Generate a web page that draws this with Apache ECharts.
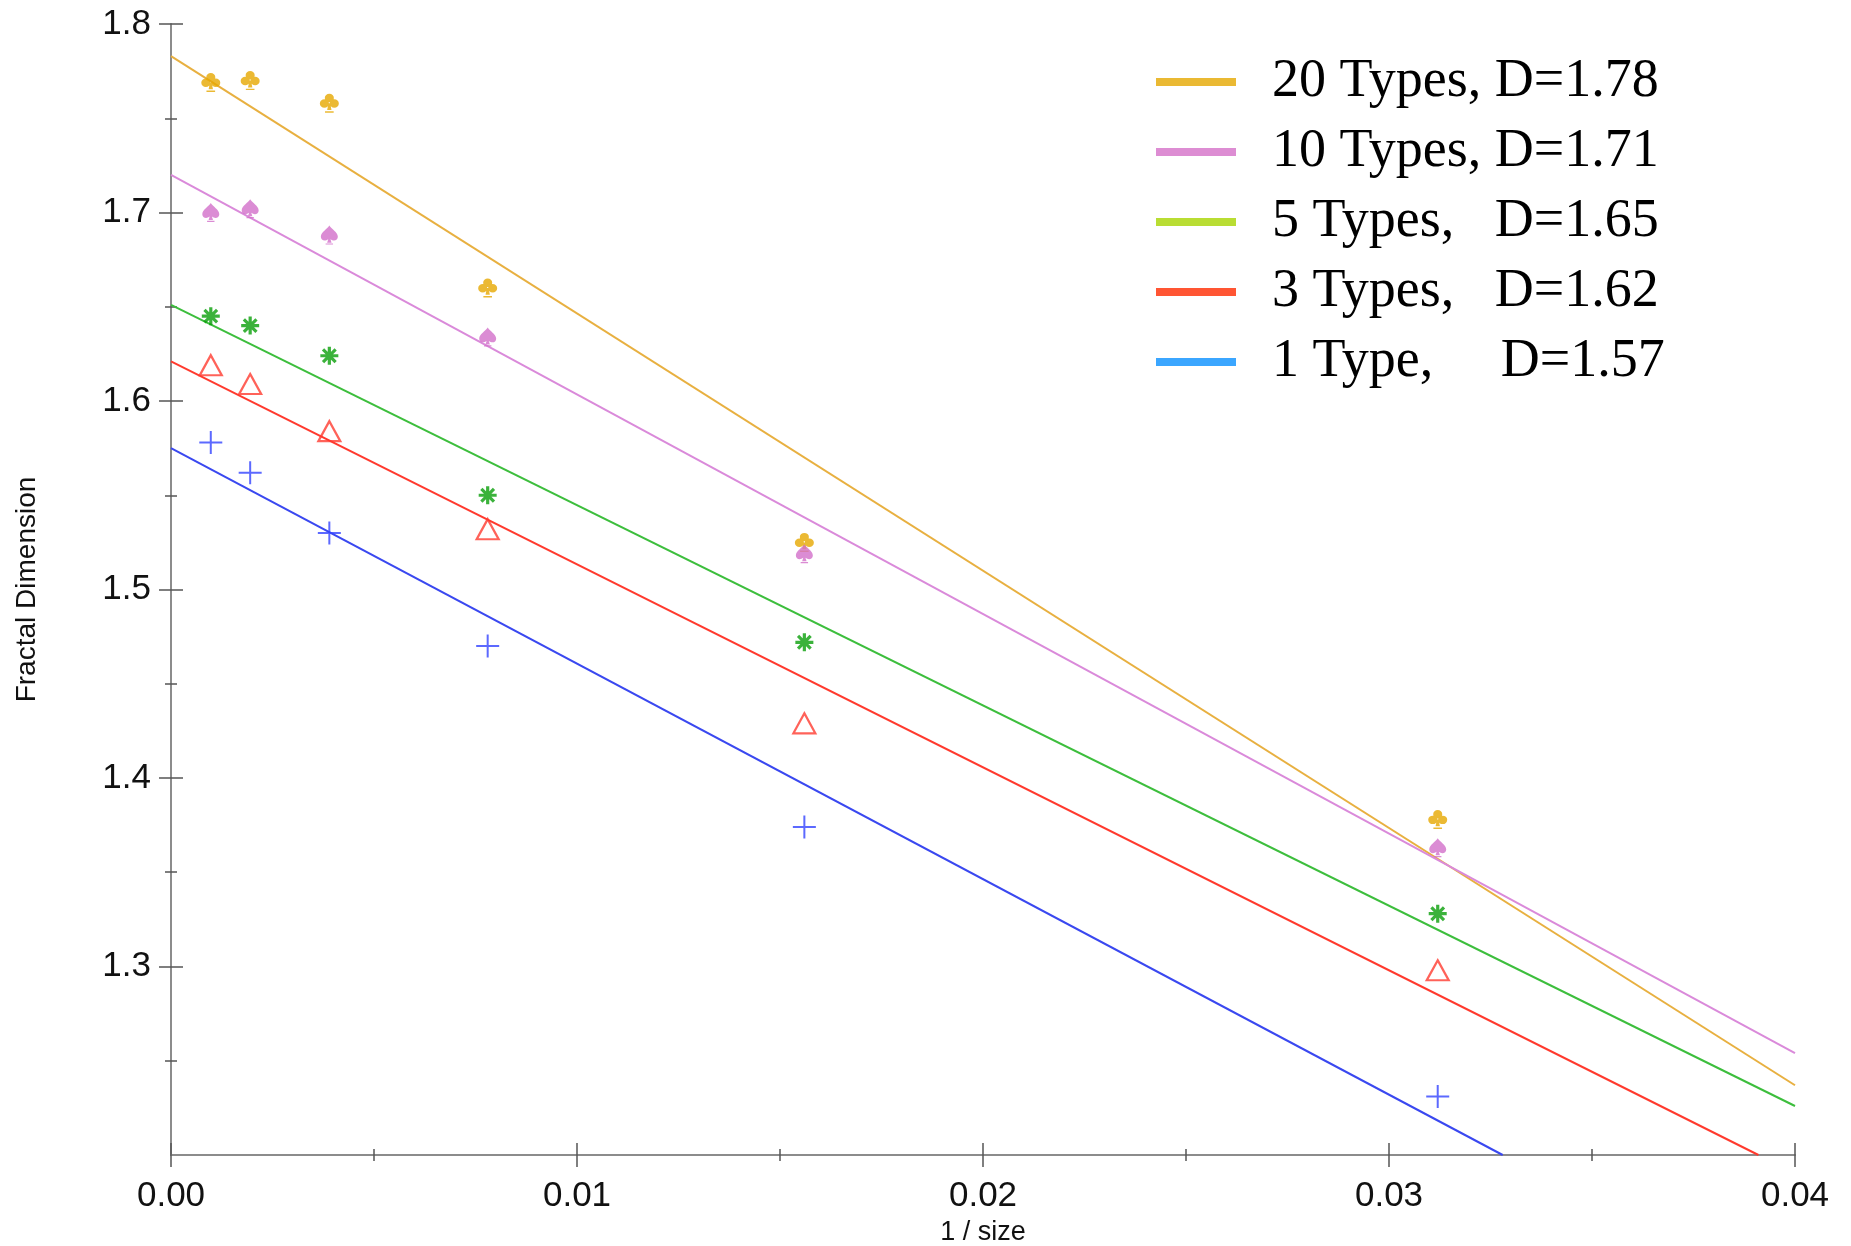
<!DOCTYPE html>
<html>
<head>
<meta charset="utf-8">
<title>Fractal Dimension vs 1 / size</title>
<script src="https://cdn.jsdelivr.net/npm/echarts@6.0.0/dist/echarts.min.js"></script>
<style>
  html, body { margin: 0; padding: 0; background: #fff; }
  #main { width: 1851px; height: 1246px; }
</style>
</head>
<body>
<div id="main"></div>
<script>
// x values: 1 / size
const invSize = [0.00098, 0.00195, 0.0039, 0.0078, 0.0156, 0.0312];

// measured dimensions
const types20 = [1.769, 1.770, 1.758, 1.660, 1.525, 1.378];
const types10 = [1.700, 1.702, 1.688, 1.634, 1.519, 1.363];
const types5 = [1.645, 1.640, 1.624, 1.550, 1.472, 1.328];
const types3 = [1.619, 1.609, 1.584, 1.532, 1.429, 1.298];
const types1 = [1.578, 1.562, 1.530, 1.470, 1.374, 1.231];

// fit lines, both ends
const fit20 = [[0, 1.783], [0.04, 1.237]];
const fit10 = [[0, 1.720], [0.04, 1.254]];
const fit5 = [[0, 1.651], [0.04, 1.226]];
const fit3 = [[0, 1.621], [0.0391, 1.2]];
const fit1 = [[0, 1.575], [0.0328, 1.2]];

const legendNames = [
  "20 Types, D=1.78",
  "10 Types, D=1.71",
  "5 Types,   D=1.65",
  "3 Types,   D=1.62",
  "1 Type,     D=1.57",
];
const yTickValues = [1.3, 1.4, 1.5, 1.6, 1.7, 1.8];

// marker shapes
const clubPath = "path://M29,24 A21,21 0 1,1 71,24 A21,21 0 1,1 29,24 Z M6,52 A21,21 0 1,1 48,52 A21,21 0 1,1 6,52 Z M52,52 A21,21 0 1,1 94,52 A21,21 0 1,1 52,52 Z M46,50 L54,50 L60,84 L40,84 Z M30,90 L70,90 L70,97 L30,97 Z";
const spadePath = "path://M50,0 C40,18 4,34 4,58 C4,76 26,84 44,70 L38,88 L62,88 L56,70 C74,84 96,76 96,58 C96,34 60,18 50,0 Z M30,92 L70,92 L70,98 L30,98 Z";
const starPath = "path://M50,0 L50,100 M0,50 L100,50 M15,15 L85,85 M15,85 L85,15";
const plusPath = "path://M50,0 L50,100 M0,50 L100,50";

const groups = [
  { name: legendNames[0], vals: types20, fit: fit20, legend: "#e5a800", line: "#e8b040",
    symbol: clubPath, size: [19, 19], item: { color: "#e6a800" } },
  { name: legendNames[1], vals: types10, fit: fit10, legend: "#d470c8", line: "#da8ada",
    symbol: spadePath, size: [17, 19], item: { color: "#d26fc9" } },
  { name: legendNames[2], vals: types5, fit: fit5, legend: "#a8d400", line: "#3dbe3d",
    symbol: starPath, size: [18, 18], item: { color: "#0fb20f", borderColor: "#0a9f0a", borderWidth: 3.2 } },
  { name: legendNames[3], vals: types3, fit: fit3, legend: "#ff2a00", line: "#ff3a2e",
    symbol: "triangle", size: [22, 20], item: { color: "rgba(0,0,0,0)", borderColor: "#ff3b30", borderWidth: 2.2 } },
  { name: legendNames[4], vals: types1, fit: fit1, legend: "#0a90ff", line: "#3a48f0",
    symbol: plusPath, size: [23, 23], item: { color: "#3344ff", borderColor: "#3344ff", borderWidth: 2 } },
];

const series = [];
groups.forEach((g, i) => {
  series.push({
    name: "fit" + i,
    type: "line",
    data: g.fit,
    showSymbol: false,
    symbol: "none",
    silent: true,
    lineStyle: { color: g.line, width: 2 },
    z: 2,
  });
});
groups.forEach((g) => {
  series.push({
    name: g.name,
    type: "scatter",
    data: invSize.map((x, j) => [x, g.vals[j]]),
    symbol: g.symbol,
    symbolSize: g.size,
    itemStyle: g.item,
    z: 3,
  });
});

const sans = "'Liberation Sans', Arial, sans-serif";
const tickStyle = { color: "#555", width: 1.5 };

let myChart = echarts.init(document.getElementById("main"));
myChart.setOption({
  backgroundColor: "#fff",
  animation: false,
  grid: { left: 171, right: 56, top: 24, bottom: 91, outerBoundsMode: "none" },
  legend: {
    orient: "vertical",
    left: 1151,
    top: 50,
    itemWidth: 80,
    itemHeight: 8,
    itemGap: 16,
    icon: "rect",
    textStyle: {
      fontFamily: "'Liberation Serif', 'Times New Roman', serif",
      fontSize: 54,
      lineHeight: 54,
      color: "#000",
      padding: [0, 0, 0, 31],
    },
    data: groups.map((g) => ({
      name: g.name,
      icon: "rect",
      itemStyle: { color: g.legend, borderWidth: 0 },
    })),
  },
  xAxis: [
    {
      type: "value",
      min: 0,
      max: 0.04,
      interval: 0.01,
      position: "bottom",
      name: "1 / size",
      nameLocation: "middle",
      nameGap: 64,
      nameTextStyle: { fontFamily: sans, fontSize: 27, color: "#111" },
      axisLine: { show: true, lineStyle: { color: "#8c8c8c", width: 2 } },
      axisTick: { show: true, length: 12, lineStyle: tickStyle },
      minorTick: { show: true, splitNumber: 2, length: 6, lineStyle: tickStyle },
      axisLabel: {
        fontFamily: sans,
        fontSize: 35,
        color: "#111",
        margin: 24,
        formatter: (v) => v.toFixed(2),
      },
      splitLine: { show: false },
    },
    {
      type: "value",
      min: 0,
      max: 0.04,
      interval: 0.01,
      position: "bottom",
      axisLine: { show: false },
      axisTick: { show: true, inside: true, length: 12, lineStyle: tickStyle },
      minorTick: { show: true, splitNumber: 2, length: 6, lineStyle: tickStyle },
      axisLabel: { show: false },
      splitLine: { show: false },
    },
  ],
  yAxis: [
    {
      type: "value",
      min: 1.2,
      max: 1.8,
      interval: 0.1,
      position: "left",
      name: "Fractal Dimension",
      nameLocation: "middle",
      nameGap: 130,
      nameTextStyle: { fontFamily: sans, fontSize: 28, color: "#111" },
      axisLine: { show: true, lineStyle: { color: "#8c8c8c", width: 2 } },
      axisTick: { show: true, length: 12, lineStyle: tickStyle, customValues: yTickValues },
      minorTick: { show: true, splitNumber: 2, length: 6, lineStyle: tickStyle },
      axisLabel: {
        fontFamily: sans,
        fontSize: 35,
        color: "#111",
        margin: 20,
        customValues: yTickValues,
        formatter: (v) => v.toFixed(1),
      },
      splitLine: { show: false },
    },
    {
      type: "value",
      min: 1.2,
      max: 1.8,
      interval: 0.1,
      position: "left",
      axisLine: { show: false },
      axisTick: { show: true, inside: true, length: 12, lineStyle: tickStyle, customValues: yTickValues },
      minorTick: { show: true, splitNumber: 2, length: 6, lineStyle: tickStyle },
      axisLabel: { show: false },
      splitLine: { show: false },
    },
  ],
  series: series,
});
</script>
</body>
</html>
